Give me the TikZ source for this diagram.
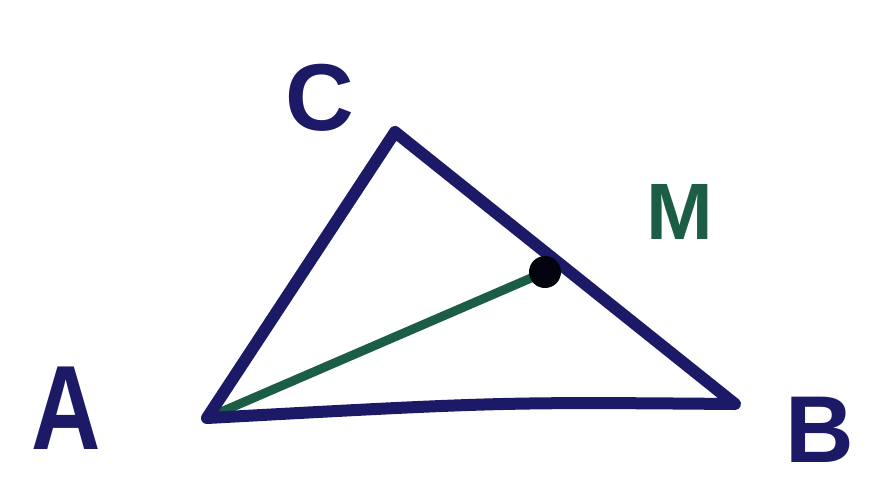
\documentclass[tikz,border=0pt]{standalone}
\usepackage{fontspec}
\setmainfont{Liberation Sans}
\definecolor{navy}{HTML}{1C1A66}
\definecolor{mgreen}{HTML}{1B5E45}
\begin{document}
\begin{tikzpicture}[x=1pt,y=-1pt,
  edge/.style={navy,line width=12pt,line cap=round,line join=round},
  median/.style={mgreen,line width=9pt,line cap=round},
  lab/.style={navy,font=\bfseries\fontsize{95}{100}\selectfont}]
\useasboundingbox[fill=white] (0,0) rectangle (869,483);
\coordinate (A) at (207,418);
\coordinate (B) at (735,404);
\coordinate (C) at (395,132);
\coordinate (M) at (545,272);
\draw[median] (A) -- (M);
\draw[edge] (A) -- (C) -- (B) .. controls (500,402) .. (A);
\fill[black!85!navy] (M) circle (16pt);
\node[lab,font=\bfseries\fontsize{120}{125}\selectfont,xscale=0.8] (lA) at (66,408) {A};
\node[lab] (lB) at (820,430) {B};
\node[lab] (lC) at (320,98) {C};
\node[mgreen,font=\bfseries\fontsize{80}{85}\selectfont] (lM) at (680,212) {M};
\end{tikzpicture}
\end{document}
